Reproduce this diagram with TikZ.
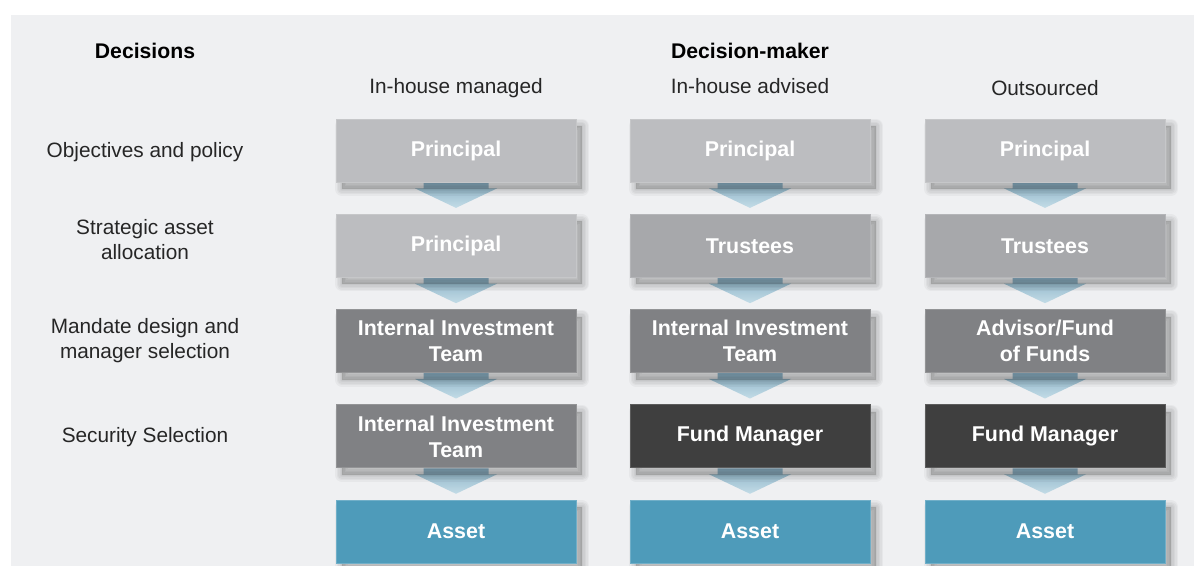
\documentclass[tikz,border=0pt]{standalone}
\usepackage{fontspec}
\setmainfont{Liberation Sans}
\usetikzlibrary{positioning,calc}

\definecolor{panel}{HTML}{EFF0F2}
\definecolor{tonea}{HTML}{BCBDC0}
\definecolor{toneb}{HTML}{A7A8AB}
\definecolor{tonec}{HTML}{808184}
\definecolor{toned}{HTML}{3F3F3F}
\definecolor{asset}{HTML}{4E9BBA}
\definecolor{flowtop}{HTML}{8DB3C7}
\definecolor{flowbot}{HTML}{C3DCE7}
\definecolor{ink}{HTML}{262626}

\pgfdeclarelayer{back}
\pgfdeclarelayer{flows}
\pgfsetlayers{back,flows,main}

% soft shadow: a few wide translucent strokes under the box
\tikzset{
  haze/.style={preaction={fill=black,draw=black,opacity=.035,line width=#1,line join=round,
    transform canvas={shift={(3pt,-3.5pt)}}}}
}

% down arrow between two stacked boxes
\newcommand\flow[2]{%
  \shade[top color=flowtop,bottom color=flowbot]
    ($(#1.south)+(-32.5,0)$) -- ($(#1.south)+(32.5,0)$) -- ($(#1.south)+(32.5,6)$)
    -- ($(#1.south)+(41,6)$) -- ($(#2.north)+(0,-6)$) -- ($(#1.south)+(-41,6)$)
    -- ($(#1.south)+(-32.5,6)$) -- cycle;}

\begin{document}
\begin{tikzpicture}[x=0.5pt,y=-0.5pt,
    box/.style={rectangle,minimum width=120pt,minimum height=31.5pt,align=center,
      text=white,font=\fontsize{10.7}{13}\selectfont\bfseries,line width=0.4pt,
      haze=7pt,haze=5.5pt,haze=4pt,haze=2.5pt,haze=1pt},
    pa/.style={box,fill=tonea,draw=tonea!85!white},
    pb/.style={box,fill=toneb,draw=toneb!85!white},
    pc/.style={box,fill=tonec,draw=tonec!85!white},
    pd/.style={box,fill=toned,draw=toned!85!white},
    pe/.style={box,fill=asset,draw=asset!80!white},
    head/.style={text=black,font=\fontsize{10.6}{13}\selectfont\bfseries},
    lbl/.style={text=ink,align=center,font=\fontsize{10.4}{12.5}\selectfont},
    node distance=15.75pt]

  \begin{pgfonlayer}{back}
    \fill[panel] (11,15) rectangle (1194,566);
  \end{pgfonlayer}
  \useasboundingbox (0,0) rectangle (1194,566);

  % headings
  \node[head] (dec) at (145,51) {Decisions};
  \node[head] (dm)  at (750,51) {Decision-maker};

  % in-house managed
  \node[pa] (m1) at (456,150.5) {Principal};
  \node[pa,below=of m1] (m2) {Principal};
  \node[pc,below=of m2] (m3) {Internal Investment\\Team};
  \node[pc,below=of m3] (m4) {Internal Investment\\Team};
  \node[pe,below=of m4] (m5) {Asset};

  % in-house advised
  \node[pa] (a1) at (750,150.5) {Principal};
  \node[pb,below=of a1] (a2) {Trustees};
  \node[pc,below=of a2] (a3) {Internal Investment\\Team};
  \node[pd,below=of a3] (a4) {Fund Manager};
  \node[pe,below=of a4] (a5) {Asset};

  % outsourced
  \node[pa] (o1) at (1045,150.5) {Principal};
  \node[pb,below=of o1] (o2) {Trustees};
  \node[pc,below=of o2] (o3) {Advisor/Fund\\of Funds};
  \node[pd,below=of o3] (o4) {Fund Manager};
  \node[pe,below=of o4] (o5) {Asset};

  \node[lbl] (hm) at (456,88) {In-house managed};
  \node[lbl] (ha) at (750,86) {In-house advised};
  \node[lbl] (ho) at (1045,88) {Outsourced};

  % decision rows
  \node[lbl] (r1) at (145,152.5) {Objectives and policy};
  \node[lbl] (r2) at (145,240) {Strategic asset\\allocation};
  \node[lbl] (r3) at (145,340.5) {Mandate design and\\manager selection};
  \node[lbl] (r4) at (145,437.5) {Security Selection};

  \begin{pgfonlayer}{flows}
    \foreach \c in {m,a,o}{
      \flow{\c1}{\c2}
      \flow{\c2}{\c3}
      \flow{\c3}{\c4}
      \flow{\c4}{\c5}
    }
  \end{pgfonlayer}
\end{tikzpicture}
\end{document}
